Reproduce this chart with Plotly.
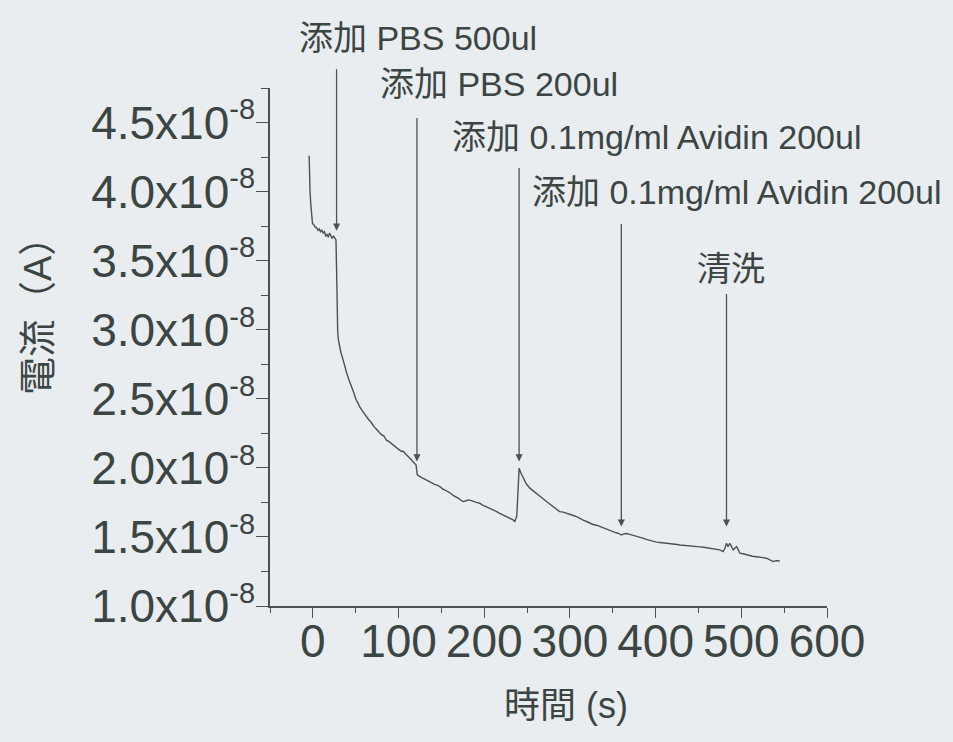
import plotly.graph_objects as go

# ---------------- data ----------------
time_s = [-4.3, -4.0, -3.3, -2.3, -1.2, -0.4, 1, 3, 4.3, 6, 7.5, 9, 10.5, 12, 13.5, 15, 16.5, 18, 19.5, 21,
          22.5, 24, 25.5, 27, 27.8, 28.3, 29, 30, 31.5, 33, 35.4, 37, 39.3, 42, 45.2, 48, 50, 52.9, 55, 58,
          60, 62.3, 65, 68, 71, 74.3, 77, 80, 83, 85.9, 89, 91, 93.7, 97, 100, 103, 105.4, 108, 110, 113.2,
          116, 119, 120.5, 121.8, 124, 127, 130, 132.7, 136, 139, 142, 145, 148.2, 151, 154, 157, 160, 163.7,
          167, 170, 173, 175.4, 178, 181.2, 184, 188, 191, 194.9, 198, 202, 206, 210.4, 214, 218, 222, 226,
          230, 233.7, 235.7, 238, 239.5, 240.7, 242.7, 245.4, 249, 253.2, 257, 261, 265, 269, 272.7, 277,
          281, 285, 288, 292, 296, 300, 304, 307.7, 312, 316, 320, 323.2, 327, 331, 334.9, 339, 343, 347,
          350.4, 354, 356.2, 358, 360.2, 363, 366, 369.9, 374, 378, 381.6, 386, 390, 393, 397.1, 401, 405,
          409, 412.7, 417, 421, 425, 428.2, 433, 438, 443, 447.7, 452, 456, 460, 463.2, 467, 471, 474.9,
          478.8, 481, 482.7, 484.6, 486.6, 488.5, 490.5, 492.4, 494.4, 496.3, 498.2, 502, 506, 510, 513,
          517.7, 521, 525, 529.4, 533, 537.1, 541, 545]

# current in units of 1e-8 A
current_e8 = [4.26, 4.12, 4.00, 3.90, 3.82, 3.77, 3.76, 3.74, 3.74, 3.72, 3.73, 3.71, 3.72, 3.70, 3.71, 3.68,
              3.69, 3.67, 3.70, 3.68, 3.66, 3.68, 3.66, 3.65, 3.40, 3.15, 2.98, 2.92, 2.87, 2.83, 2.78, 2.74,
              2.69, 2.64, 2.59, 2.54, 2.50, 2.46, 2.44, 2.41, 2.39, 2.37, 2.35, 2.33, 2.30, 2.28, 2.26, 2.24,
              2.23, 2.20, 2.19, 2.18, 2.17, 2.15, 2.14, 2.12, 2.12, 2.10, 2.09, 2.07, 2.05, 2.03, 2.02, 1.95,
              1.94, 1.93, 1.92, 1.91, 1.90, 1.89, 1.88, 1.875, 1.865, 1.85, 1.84, 1.83, 1.82, 1.80, 1.79, 1.78,
              1.765, 1.756, 1.76, 1.768, 1.765, 1.755, 1.75, 1.744, 1.73, 1.72, 1.71, 1.696, 1.685, 1.67, 1.66,
              1.65, 1.635, 1.623, 1.611, 1.65, 1.85, 1.998, 1.964, 1.925, 1.885, 1.853, 1.835, 1.817, 1.80,
              1.775, 1.756, 1.735, 1.715, 1.70, 1.683, 1.68, 1.67, 1.665, 1.655, 1.647, 1.63, 1.62, 1.61, 1.60,
              1.59, 1.585, 1.575, 1.565, 1.555, 1.545, 1.538, 1.53, 1.527, 1.52, 1.514, 1.522, 1.525, 1.519,
              1.512, 1.505, 1.502, 1.49, 1.48, 1.475, 1.466, 1.462, 1.46, 1.458, 1.454, 1.45, 1.447, 1.445,
              1.442, 1.44, 1.437, 1.434, 1.430, 1.428, 1.425, 1.42, 1.418, 1.414, 1.41, 1.406, 1.394, 1.42,
              1.454, 1.43, 1.454, 1.43, 1.406, 1.418, 1.43, 1.41, 1.382, 1.378, 1.37, 1.365, 1.36, 1.357, 1.352,
              1.35, 1.346, 1.335, 1.322, 1.328, 1.326]

# y tick values (units of 1e-8 A) and labels
ytick_e8 = [1.0, 1.5, 2.0, 2.5, 3.0, 3.5, 4.0, 4.5]
ytick_mantissa = ["1.0", "1.5", "2.0", "2.5", "3.0", "3.5", "4.0", "4.5"]
xtick_vals = [0, 100, 200, 300, 400, 500, 600]

# events (arrows): time and the current at the arrow tip (units of 1e-8 A)
event_time = [27.7, 121.5, 240.7, 360.0, 482.7]
event_tip_e8 = [3.717, 2.046, 2.046, 1.575, 1.575]
event_label = ["添加 PBS 500ul", "添加 PBS 200ul", "添加 0.1mg/ml Avidin 200ul",
               "添加 0.1mg/ml Avidin 200ul", "清洗"]

# ---------------- layout geometry / style ----------------
W, H = 953, 742
L, R, T, B = 270, 126, 88, 136
PW, PH = W - L - R, H - T - B

def px_to_paper(px, py):
    return (px - L) / PW, (H - B - py) / PH

BG = "#e9edf0"
INK = "#3b4543"
LINE = "#4a5351"
FONT_LATIN = "Liberation Sans, Arial, Noto Sans CJK TC, sans-serif"
FONT_CJK = "Liberation Sans, Noto Sans CJK TC, sans-serif"

ytick_text = [m + "x10<sup><span style='font-size:29px'>-8</span></sup>" for m in ytick_mantissa]

fig = go.Figure()
fig.add_trace(go.Scatter(
    x=time_s, y=[v * 1e-8 for v in current_e8], mode="lines",
    line=dict(color=LINE, width=1.4), showlegend=False, hoverinfo="skip"))

# arrow tails (pixel offsets above tip) and label anchor positions in pixels
arrow_ay = [-163, -345, -295, -304, -234]
label_px = [(297, 38), (378, 84), (450, 137), (530, 192), (695, 269)]

annotations = []
for t, tip, ay in zip(event_time, event_tip_e8, arrow_ay):
    annotations.append(dict(
        x=t, y=tip * 1e-8, xref="x", yref="y", ax=0, ay=ay,
        showarrow=True, arrowhead=2, arrowsize=1.1, arrowwidth=1.3,
        arrowcolor=LINE, text=""))
for lab, (px, py) in zip(event_label, label_px):
    xp, yp = px_to_paper(px, py)
    annotations.append(dict(
        x=xp, y=yp, xref="paper", yref="paper", xanchor="left", yanchor="middle",
        text=lab, showarrow=False, font=dict(family=FONT_CJK, size=34, color=INK)))

# axis titles
xp, yp = px_to_paper(566, 705)
annotations.append(dict(x=xp, y=yp, xref="paper", yref="paper", text="時間 (s)",
                        showarrow=False, xanchor="center", yanchor="middle",
                        font=dict(family=FONT_CJK, size=36, color=INK)))
xp, yp = px_to_paper(38, 307)
annotations.append(dict(x=xp, y=yp, xref="paper", yref="paper", text="電流（A）",
                        textangle=-90, showarrow=False, xanchor="center", yanchor="middle",
                        font=dict(family=FONT_CJK, size=38, color=INK)))

fig.update_layout(
    width=W, height=H,
    margin=dict(l=L, r=R, t=T, b=B, pad=0),
    paper_bgcolor=BG, plot_bgcolor=BG,
    annotations=annotations,
    showlegend=False,
    xaxis=dict(
        range=[-50, 600], tickmode="array", tickvals=xtick_vals,
        ticktext=[str(v) for v in xtick_vals],
        showgrid=False, zeroline=False, showline=True, linecolor=LINE, linewidth=1.5,
        ticks="outside", ticklen=10, tickwidth=1.4, tickcolor=LINE,
        ticklabelstandoff=-16,
        tickfont=dict(family=FONT_LATIN, size=46, color=INK),
        minor=dict(tickmode="linear", tick0=-50, dtick=50, ticks="outside",
                   ticklen=5, tickwidth=1.2, tickcolor=LINE, showgrid=False),
    ),
    yaxis=dict(
        range=[1.0e-8, 4.75e-8], tickmode="array",
        tickvals=[v * 1e-8 for v in ytick_e8], ticktext=ytick_text,
        showgrid=False, zeroline=False, showline=True, linecolor=LINE, linewidth=1.5,
        ticks="outside", ticklen=12, tickwidth=1.4, tickcolor=LINE,
        ticklabelstandoff=-8,
        tickfont=dict(family=FONT_LATIN, size=46, color=INK),
        minor=dict(tickmode="linear", tick0=1.0e-8, dtick=0.25e-8, ticks="outside",
                   ticklen=7, tickwidth=1.2, tickcolor=LINE, showgrid=False),
    ),
)

fig.write_html("out.html", config={"displayModeBar": False},
               post_script="document.body.style.margin='0px';document.body.style.overflow='hidden';")
